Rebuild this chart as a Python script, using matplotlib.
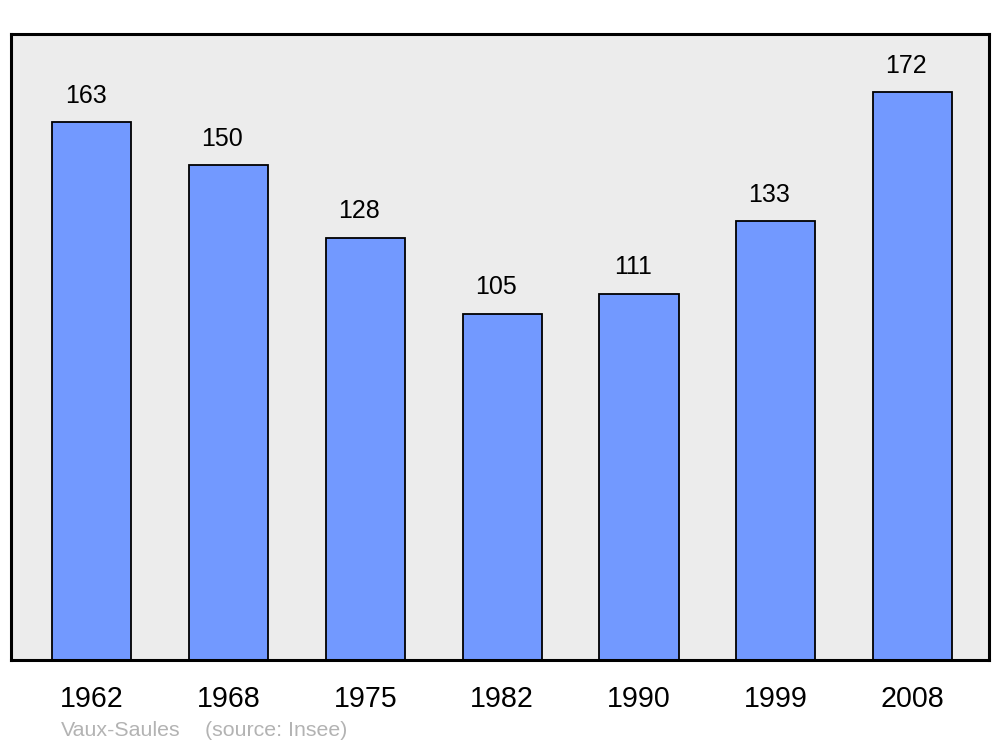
import matplotlib
matplotlib.use("Agg")
import matplotlib.pyplot as plt

years = ['1962', '1968', '1975', '1982', '1990', '1999', '2008']
population = [163, 150, 128, 105, 111, 133, 172]
commune = 'Vaux-Saules'
source = '(source: Insee)'

plt.rcParams['font.family'] = ['Liberation Sans', 'DejaVu Sans']

fig = plt.figure(figsize=(10, 7.47), dpi=100)
ax = fig.add_axes([0.011, 87 / 747, 0.978, 626 / 747])
ax.set_facecolor('#ececec')

pos = list(range(len(years)))
ax.bar(pos, population, width=0.578, color='#7299ff', edgecolor='black', linewidth=1.3, zorder=2)

for x, v in zip(pos, population):
    ax.annotate(str(v), xy=(x, v), xytext=(-4.5, 14), textcoords='offset points',
                ha='center', va='baseline', fontsize=18)

ax.set_xlim(-0.592, 6.559)
ax.set_ylim(0, 189.7)
ax.set_xticks(pos)
ax.set_xticklabels(years, fontsize=20.6)
ax.tick_params(axis='x', length=0, pad=18)
ax.set_yticks([])
for s in ax.spines.values():
    s.set_linewidth(2.2)

fig.text(0.061, 1 - 730 / 747, commune, color='#b3b3b3', fontsize=15.4, va='center')
fig.text(0.205, 1 - 730 / 747, source, color='#b3b3b3', fontsize=15.4, va='center')

fig.savefig('out.png', dpi=100, facecolor='white')
